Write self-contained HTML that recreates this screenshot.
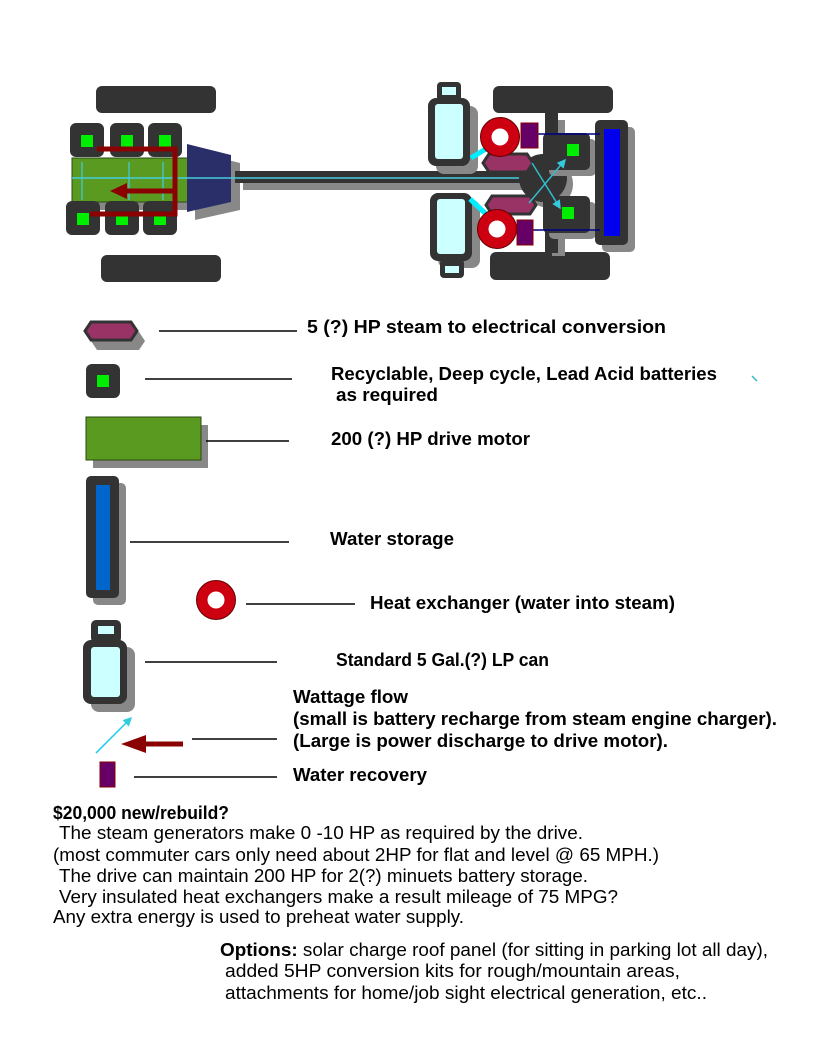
<!DOCTYPE html>
<html><head><meta charset="utf-8"><style>
html,body{margin:0;padding:0;background:#fff;}
svg{display:block;}
text{font-family:"Liberation Sans",Arial,sans-serif;fill:#000;}
.b{font-weight:bold;font-size:18px;}
.r{font-size:18.5px;}
</style></head><body>
<svg width="816" height="1056" viewBox="0 0 816 1056" xmlns="http://www.w3.org/2000/svg">
<defs>
<marker id="cy" markerWidth="6" markerHeight="6" refX="5" refY="3" orient="auto"><path d="M0,0 L6,3 L0,6 z" fill="#33ccdd"/></marker>
</defs>
<rect x="96" y="86" width="120" height="27" rx="6" fill="#333"/>
<rect x="101" y="255" width="120" height="27" rx="6" fill="#333"/>
<rect x="80" y="165" width="116" height="45" fill="#888"/>
<rect x="72" y="158" width="116" height="44" fill="#5a9a20" stroke="#2a4a10"/>
<g fill="#333">
<rect x="70" y="123" width="34" height="34" rx="6"/><rect x="110" y="123" width="34" height="34" rx="6"/><rect x="148" y="123" width="34" height="34" rx="6"/>
<rect x="66" y="201" width="34" height="34" rx="6"/><rect x="105" y="201" width="34" height="34" rx="6"/><rect x="143" y="201" width="34" height="34" rx="6"/>
</g>
<g fill="#00ee00">
<rect x="81" y="135" width="12" height="12"/><rect x="121" y="135" width="12" height="12"/><rect x="159" y="135" width="12" height="12"/>
<rect x="77" y="213" width="12" height="12"/><rect x="116" y="213" width="12" height="12"/><rect x="154" y="213" width="12" height="12"/>
</g>
<polygon points="195,152 240,163 240,210 195,220" fill="#888"/>
<polygon points="187,144 231,155 231,202 187,212" fill="#2a2f6a"/>
<rect x="243" y="180" width="300" height="10" fill="#888"/>
<rect x="235" y="171" width="310" height="12" fill="#333"/>
<line x1="72" y1="178" x2="560" y2="178" stroke="#44ccdd" stroke-width="1.5"/>
<g stroke="#44ccdd" stroke-width="1.2">
<line x1="82" y1="162" x2="82" y2="200"/><line x1="129" y1="162" x2="129" y2="200"/><line x1="163" y1="162" x2="163" y2="200"/>
</g>
<g stroke="#8b0000" stroke-width="5" fill="none">
<polyline points="97,149 175,149 175,214 90,214"/>
<line x1="125" y1="191" x2="174" y2="191"/>
</g>
<polygon points="110,191 127,183 127,199" fill="#8b0000"/>

<rect x="493" y="86" width="120" height="27" rx="6" fill="#333"/>
<rect x="490" y="252" width="120" height="28" rx="6" fill="#333"/>
<rect x="552" y="120" width="13" height="136" fill="#888"/>
<rect x="545" y="113" width="13" height="140" fill="#333"/>
<circle cx="549" cy="184" r="24" fill="#888"/>
<circle cx="543" cy="178" r="24" fill="#333"/>
<rect x="549" y="139" width="47" height="37" rx="5" fill="#888"/>
<rect x="543" y="133" width="47" height="37" rx="5" fill="#333"/>
<rect x="549" y="202" width="47" height="37" rx="5" fill="#888"/>
<rect x="543" y="196" width="47" height="37" rx="5" fill="#333"/>
<rect x="567" y="144" width="12" height="12" fill="#00ee00"/>
<rect x="562" y="207" width="12" height="12" fill="#00ee00"/>
<rect x="602" y="127" width="33" height="125" rx="5" fill="#888"/>
<rect x="595" y="120" width="33" height="125" rx="5" fill="#333"/>
<rect x="604" y="129" width="16" height="107" fill="#0000ee"/>
<line x1="525" y1="134" x2="600" y2="134" stroke="#000080" stroke-width="1.5"/>
<line x1="523" y1="230" x2="600" y2="230" stroke="#000080" stroke-width="1.5"/>
<rect x="436" y="106" width="42" height="68" rx="8" fill="#888"/>
<rect x="428" y="98" width="42" height="68" rx="8" fill="#333"/>
<rect x="435" y="104" width="28" height="55" rx="3" fill="#ccffff"/>
<rect x="437" y="82" width="24" height="20" rx="4" fill="#333"/>
<rect x="442" y="87" width="14" height="8" fill="#ccffff"/>
<rect x="438" y="200" width="42" height="68" rx="8" fill="#888"/>
<rect x="430" y="193" width="42" height="68" rx="8" fill="#333"/>
<rect x="437" y="199" width="28" height="55" rx="3" fill="#ccffff"/>
<rect x="440" y="259" width="24" height="19" rx="4" fill="#333"/>
<rect x="445" y="266" width="14" height="7" fill="#ccffff"/>
<polygon points="489,154 527,154 533,163 527,172 489,172 483,163" fill="#993366" stroke="#333" stroke-width="3"/>
<polygon points="492,196 530,196 536,205 530,214 492,214 486,205" fill="#993366" stroke="#333" stroke-width="3"/>
<line x1="471" y1="158" x2="489" y2="147" stroke="#00eeff" stroke-width="5"/>
<line x1="470" y1="199" x2="487" y2="215" stroke="#00eeff" stroke-width="5"/>
<circle cx="500" cy="137" r="14" fill="none" stroke="#cc0011" stroke-width="11"/>
<circle cx="500" cy="137" r="19.5" fill="none" stroke="#660000" stroke-width="1"/>
<circle cx="497" cy="229" r="14" fill="none" stroke="#cc0011" stroke-width="11"/>
<circle cx="497" cy="229" r="19.5" fill="none" stroke="#660000" stroke-width="1"/>
<rect x="521" y="123" width="17" height="25" fill="#660066" stroke="#880000"/>
<rect x="517" y="220" width="16" height="25" fill="#660066" stroke="#880000"/>
<line x1="532" y1="163" x2="560" y2="208" stroke="#33bbcc" stroke-width="1.5" marker-end="url(#cy)"/>
<line x1="529" y1="203" x2="565" y2="160" stroke="#33bbcc" stroke-width="1.5" marker-end="url(#cy)"/>

<polygon points="97,332 139,332 145,341 139,350 97,350 91,341" fill="#888"/>
<polygon points="91,322 131,322 137,331 131,340 91,340 85,331" fill="#993366" stroke="#333" stroke-width="3"/>
<line x1="159" y1="331" x2="297" y2="331" stroke="#000" stroke-width="1.5"/>
<rect x="86" y="364" width="34" height="34" rx="6" fill="#333"/>
<rect x="97" y="375" width="12" height="12" fill="#00ee00"/>
<line x1="145" y1="379" x2="292" y2="379" stroke="#000" stroke-width="1.5"/>
<rect x="93" y="425" width="115" height="43" fill="#888"/>
<rect x="86" y="417" width="115" height="43" fill="#5a9a20" stroke="#2a4a10"/>
<line x1="206" y1="441" x2="289" y2="441" stroke="#000" stroke-width="1.5"/>
<rect x="93" y="483" width="33" height="122" rx="5" fill="#888"/>
<rect x="86" y="476" width="33" height="122" rx="5" fill="#333"/>
<rect x="96" y="485" width="14" height="105" fill="#0066cc"/>
<line x1="130" y1="542" x2="289" y2="542" stroke="#000" stroke-width="1.5"/>
<circle cx="216" cy="600" r="14" fill="none" stroke="#cc0011" stroke-width="11"/>
<circle cx="216" cy="600" r="19.5" fill="none" stroke="#660000" stroke-width="1"/>
<line x1="246" y1="604" x2="355" y2="604" stroke="#000" stroke-width="1.5"/>
<rect x="91" y="647" width="44" height="65" rx="8" fill="#888"/>
<rect x="83" y="640" width="44" height="64" rx="8" fill="#333"/>
<rect x="91" y="647" width="29" height="50" rx="3" fill="#ccffff"/>
<rect x="91" y="620" width="30" height="23" rx="5" fill="#333"/>
<rect x="98" y="626" width="16" height="8" fill="#ccffff"/>
<line x1="145" y1="662" x2="277" y2="662" stroke="#000" stroke-width="1.5"/>
<line x1="96" y1="753" x2="131" y2="718" stroke="#11ccee" stroke-width="1.5" marker-end="url(#cy)"/>
<line x1="142" y1="744" x2="183" y2="744" stroke="#8b0000" stroke-width="5"/>
<polygon points="121,744 146,735 146,753" fill="#8b0000"/>
<line x1="192" y1="739" x2="277" y2="739" stroke="#000" stroke-width="1.5"/>
<rect x="100" y="762" width="15" height="25" fill="#660066" stroke="#880000"/>
<line x1="134" y1="777" x2="277" y2="777" stroke="#000" stroke-width="1.5"/>
<line x1="752" y1="376" x2="757" y2="381" stroke="#33bbcc" stroke-width="1.5"/>

<text class="b" x="307" y="333" textLength="359" lengthAdjust="spacingAndGlyphs">5 (?) HP steam to electrical conversion</text>
<text class="b" x="331" y="380" textLength="386" lengthAdjust="spacingAndGlyphs">Recyclable, Deep cycle, Lead Acid batteries</text>
<text class="b" x="336" y="401" textLength="102" lengthAdjust="spacingAndGlyphs">as required</text>
<text class="b" x="331" y="445" textLength="199" lengthAdjust="spacingAndGlyphs">200 (?) HP drive motor</text>
<text class="b" x="330" y="545" textLength="124" lengthAdjust="spacingAndGlyphs">Water storage</text>
<text class="b" x="370" y="609" textLength="305" lengthAdjust="spacingAndGlyphs">Heat exchanger (water into steam)</text>
<text class="b" x="336" y="666" textLength="213" lengthAdjust="spacingAndGlyphs">Standard 5 Gal.(?) LP can</text>
<text class="b" x="293" y="703" textLength="115" lengthAdjust="spacingAndGlyphs">Wattage flow</text>
<text class="b" x="293" y="725" textLength="484" lengthAdjust="spacingAndGlyphs">(small is battery recharge from steam engine charger).</text>
<text class="b" x="293" y="747" textLength="375" lengthAdjust="spacingAndGlyphs">(Large is power discharge to drive motor).</text>
<text class="b" x="293" y="781" textLength="134" lengthAdjust="spacingAndGlyphs">Water recovery</text>

<text class="b" x="53" y="819" style="font-size:18px" textLength="176" lengthAdjust="spacingAndGlyphs">$20,000 new/rebuild?</text>
<text class="r" x="59" y="839" textLength="524" lengthAdjust="spacingAndGlyphs">The steam generators make 0 -10 HP as required by the drive.</text>
<text class="r" x="53" y="861" textLength="606" lengthAdjust="spacingAndGlyphs">(most commuter cars only need about 2HP for flat and level @ 65 MPH.)</text>
<text class="r" x="59" y="882" textLength="529" lengthAdjust="spacingAndGlyphs">The drive can maintain 200 HP for 2(?) minuets battery storage.</text>
<text class="r" x="59" y="903" textLength="559" lengthAdjust="spacingAndGlyphs">Very insulated heat exchangers make a result mileage of 75 MPG?</text>
<text class="r" x="53" y="923" textLength="411" lengthAdjust="spacingAndGlyphs">Any extra energy is used to preheat water supply.</text>
<text class="r" x="220" y="956" textLength="548" lengthAdjust="spacingAndGlyphs"><tspan font-weight="bold">Options:</tspan> solar charge roof panel (for sitting in parking lot all day),</text>
<text class="r" x="225" y="977" textLength="455" lengthAdjust="spacingAndGlyphs">added 5HP conversion kits for rough/mountain areas,</text>
<text class="r" x="225" y="999" textLength="482" lengthAdjust="spacingAndGlyphs">attachments for home/job sight electrical generation, etc..</text>
</svg>
</body></html>
